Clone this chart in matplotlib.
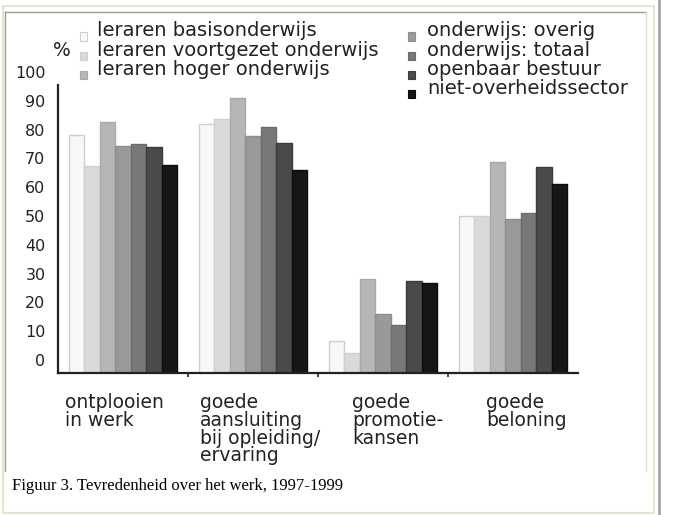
import matplotlib
matplotlib.use("Agg")
import matplotlib.pyplot as plt
import numpy as np
from matplotlib.lines import Line2D
from matplotlib.patches import Rectangle
from matplotlib.transforms import ScaledTranslation

W, H = 685, 515

categories = ["ontplooien\nin werk",
              "goede\naansluiting\nbij opleiding/\nervaring",
              "goede\npromotie-\nkansen",
              "goede\nbeloning"]
series = ["leraren basisonderwijs", "leraren voortgezet onderwijs",
          "leraren hoger onderwijs", "onderwijs: overig",
          "onderwijs: totaal", "openbaar bestuur", "niet-overheidssector"]

basis = [82.6, 86.5, 11.2, 54.5]
voortgezet = [72.0, 88.2, 6.8, 54.5]
hoger = [87.3, 95.6, 32.6, 73.3]
overig = [78.9, 82.4, 20.5, 53.4]
totaal = [79.4, 85.5, 16.6, 55.5]
openbaar = [78.5, 79.8, 31.9, 71.6]
niet_overheid = [72.2, 70.5, 31.4, 65.7]
values = [basis, voortgezet, hoger, overig, totaal, openbaar, niet_overheid]

yticks = list(range(0, 101, 10))
caption = "Figuur 3. Tevredenheid over het werk, 1997-1999"

colors = ["#f8f8f8", "#dadada", "#b6b6b6", "#999999", "#787878", "#4a4a4a", "#161616"]
edges = ["#cfcfcf", "#d0d0d0", "#aaaaaa", "#8e8e8e", "#6c6c6c", "#3c3c3c", "#0c0c0c"]
label_dx = [-0.446, -0.408, -0.238, -0.208]


def px(x, y):
    return x / W, 1 - y / H


fig = plt.figure(figsize=(W / 100, H / 100), dpi=100)
fig.patch.set_facecolor("white")

ax = fig.add_axes([58 / W, 1 - 373 / H, 520 / W, 288 / H])
x = np.arange(len(categories))
w = 0.1185
for j, vals in enumerate(values):
    ax.bar(x + (j - 3) * w, vals, w, color=colors[j], edgecolor=edges[j],
           linewidth=1, label=series[j])

ax.set_xlim(-0.5, 3.5)
ax.set_ylim(0, 100)
for s in ["top", "right"]:
    ax.spines[s].set_visible(False)
ax.spines["left"].set_linewidth(1.6)
ax.spines["bottom"].set_linewidth(1.6)
ax.spines["left"].set_color("#222222")
ax.spines["bottom"].set_color("#222222")

ax.set_xticks([])
ax.set_xticks([0.5, 1.5, 2.5], minor=True)
ax.tick_params(axis="x", which="minor", direction="out", length=3, width=1.2,
               color="#222222")

ax.set_yticks(yticks)
ax.set_yticklabels([str(v) for v in yticks], fontsize=11.5, family="DejaVu Sans",
                   color="#222222")
ax.tick_params(axis="y", length=0, pad=9)
up = ScaledTranslation(0, 13 / 100, fig.dpi_scale_trans)
for lab in ax.get_yticklabels():
    lab.set_transform(lab.get_transform() + up)

down = ScaledTranslation(0, -20 / 100, fig.dpi_scale_trans)
for i, cat in enumerate(categories):
    ax.text(i + label_dx[i], 0, cat, transform=ax.transData + down,
            ha="left", va="top", fontsize=13.5, family="DejaVu Sans",
            color="#222222", linespacing=0.92)

# legend, two columns
leg_rows = [[0, 1, 2], [3, 4, 5, 6]]
text_x = [97, 427]
box_x = [80, 408]
for c, rows in enumerate(leg_rows):
    for r, j in enumerate(rows):
        ty = 31 + r * 19.3
        fig.text(*px(text_x[c], ty), series[j], ha="left", va="center",
                 fontsize=14, family="DejaVu Sans", color="#222222")
        fig.patches.append(Rectangle(px(box_x[c], ty + 9.5), 7 / W, 8 / H,
                                     transform=fig.transFigure,
                                     facecolor=colors[j], edgecolor=edges[j],
                                     linewidth=0.8))
fig.text(*px(62, 50), "%", ha="center", va="center", fontsize=13.5,
         family="DejaVu Sans", color="#222222")

# page frame around the image
def fline(xs, ys, color, lw):
    fig.add_artist(Line2D([a / W for a in xs], [1 - b / H for b in ys],
                          transform=fig.transFigure, color=color, lw=lw))

fline([3, 654, 654, 3, 3], [6, 6, 513, 513, 6], "#e6e3d0", 1.5)
fline([5, 5], [12, 471], "#9a9a9a", 1)
fline([5, 646], [12, 12], "#9a9a9a", 1)
fline([646, 646], [12, 471], "#dddddd", 1)
fline([659, 659], [0, 515], "#a8a8a8", 2)

fig.text(*px(12, 486), caption, ha="left", va="center", fontsize=12,
         family="Liberation Serif", color="black")

fig.savefig("out.png", dpi=100)
